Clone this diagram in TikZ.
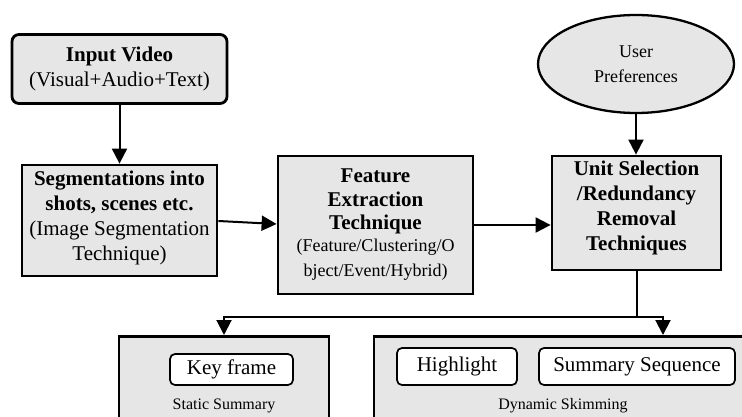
\documentclass[tikz,border=0pt]{standalone}
\usepackage{fontspec}
\setmainfont{Liberation Serif}
\usetikzlibrary{arrows.meta,shapes.geometric,calc}
\definecolor{boxgray}{HTML}{E6E6E6}
\tikzset{
  procbox/.style={draw=black, line width=2.8pt, fill=boxgray, align=center, inner sep=0pt,
     font=\fontsize{21}{25}\selectfont},
  roundbox/.style={procbox, rounded corners=7pt},
  ovalbox/.style={draw=black, line width=2.3pt, fill=boxgray, ellipse, align=center, inner sep=0pt,
     font=\fontsize{18}{25}\selectfont},
  outerbox/.style={draw=black, line width=2.8pt, fill=boxgray, inner sep=0pt, anchor=north},
  itembox/.style={draw=black, line width=1.7pt, fill=white, rounded corners=5pt, inner sep=0pt,
     font=\fontsize{21}{25}\selectfont},
  caption/.style={font=\fontsize{16}{19}\selectfont, inner sep=0pt},
  arr/.style={line width=2pt, -{Triangle[length=15pt,width=15pt]}},
  plain/.style={line width=2pt},
}
\begin{document}
\begin{tikzpicture}[x=1pt,y=-1pt]
\useasboundingbox (0,0) rectangle (742,417);
\clip (0,0) rectangle (742,417);

\node[roundbox, minimum width=215pt, minimum height=69pt] (inp) at (119.5,69)
  {\textbf{Input Video}\\(Visual+Audio+Text)};

\node[procbox, minimum width=195pt, minimum height=111pt] (seg) at (119.5,220.5)
  {\textbf{Segmentations into}\\\textbf{shots, scenes etc.}\\(Image Segmentation\\Technique)\rule[-10pt]{0pt}{10pt}};

\node[procbox, minimum width=195pt, minimum height=138pt] (feat) at (375.5,225)
  {\textbf{Feature}\\[-1pt]\textbf{Extraction}\\[-2pt]\textbf{Technique}\\[-3pt]
   {\fontsize{18}{22}\selectfont (Feature/Clustering/O}\\[0pt]
   {\fontsize{18}{22}\selectfont bject/Event/Hybrid)}};

\node[procbox, minimum width=169pt, minimum height=114pt, font=\bfseries\fontsize{21}{25}\selectfont] (unit) at (636.5,213)
  {Unit Selection\\/Redundancy\\Removal\\Techniques\rule[-15pt]{0pt}{15pt}};

\node[ovalbox, minimum width=196pt, minimum height=98pt] (user) at (636,64)
  {User\\Preferences};

\node[outerbox, minimum width=210pt, minimum height=120pt] (stat) at (224,335) {};
\node[outerbox, minimum width=386pt, minimum height=120pt] (dyn) at (567,335) {};

\node[itembox, minimum width=123pt, minimum height=31pt] (key) at (231.5,369.5) {Key frame};
\node[itembox, minimum width=120pt, minimum height=37pt] (hl) at (457,366.5) {Highlight};
\node[itembox, minimum width=196pt, minimum height=37pt] (ss) at (637,366.5) {Summary Sequence};

\node[caption] (statcap) at (224,406) {Static Summary};
\node[caption] (dyncap) at (563,406) {Dynamic Skimming};

\coordinate (segout) at ($(seg.east)+(0,0.5)$);
\coordinate (featin) at ($(feat.west)+(0,-1)$);

\draw[arr] (inp.south) -- (seg.north);
\draw[arr] (segout) -- (featin);
\draw[arr] (feat.east) -- (unit.west |- feat.east);
\draw[arr] (user.south) -- (unit.north -| user.south);
\coordinate (j) at ($(unit.south)+(0,46)$);
\draw[plain] (unit.south) -- (j);
\draw[arr] (j) -| (stat.north);
\draw[arr] (j) -| ([xshift=96pt]dyn.north);
\end{tikzpicture}
\end{document}
